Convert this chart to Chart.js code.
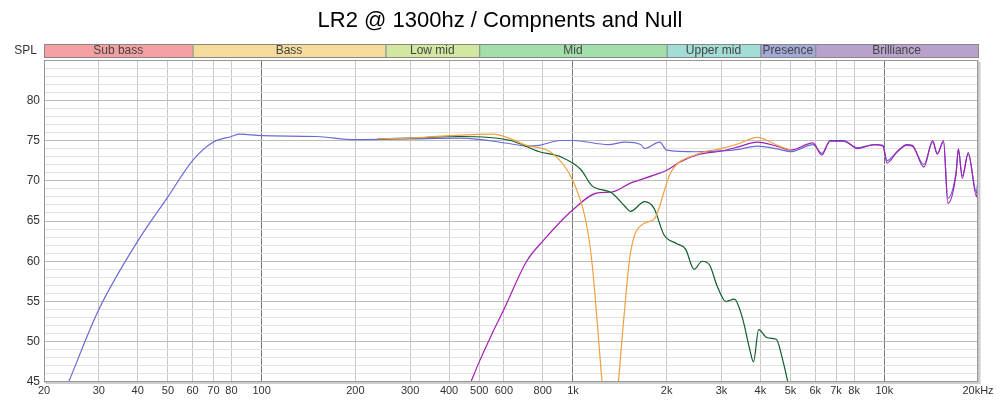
<!DOCTYPE html>
<html><head><meta charset="utf-8">
<script src="https://cdn.jsdelivr.net/npm/chart.js@4"></script>
<style>html,body{margin:0;padding:0;background:#fff}#w{width:1000px;height:406px}</style>
</head><body><div id="w"><canvas id="c"></canvas></div>
<script>
const chartTitle = "LR2 @ 1300hz / Compnents and Null";
const tickFreqs = [20,30,40,50,60,70,80,100,200,300,400,500,600,800,1000,2000,3000,4000,5000,6000,7000,8000,10000,20000];
const tickLabels = ["20","30","40","50","60","70","80","100","200","300","400","500","600","800","1k","2k","3k","4k","5k","6k","7k","8k","10k","20kHz"];
const bandNames = ["Sub bass","Bass","Low mid","Mid","Upper mid","Presence","Brilliance"];
const bandEdges = [20,60,250,500,2000,4000,6000,20000];
const bandColors = ["#f4a0a2","#f5dc9c","#d2e8a0","#a2dfaa","#a2ddd6","#a4aad8","#b8a2cc"];

const sumFreq = [24,30,40,50,60,70,80,85,100,150,200,300,436,630,710,780,910,1000,1300,1470,1650,1700,1900,2000,2500,3000,3400,3900,4600,5000,5900,6300,6700,7400,8200,9300,9900,10200,11000,11800,12300,13400,14300,14800,15500,16000,17000,17300,17800,18600,19800,20000];
const sumDb   = [45,54,62.5,68,72.5,74.8,75.5,75.8,75.6,75.5,75.1,75.2,75.3,74.6,74.3,74.4,75,75,74.5,74.8,74.5,74,74.8,73.8,73.6,73.7,73.9,74.3,73.9,73.6,74.5,73.4,74.9,74.9,74.1,74.5,74.3,72.5,73.6,74.4,74.3,72,74.8,73.4,74.8,67.8,71,73.8,70.6,73.3,68.5,70.4];

const wooferFreq = [236,300,436,630,780,910,1060,1150,1330,1470,1530,1700,1820,1960,2150,2300,2450,2600,2750,2900,3100,3300,3500,3700,3800,3950,4200,4500,4700,4900];
const wooferDb   = [75.2,75.3,75.5,75,73.6,73,71.4,69.4,68.5,66.8,66.2,67.4,66.6,63.3,62.2,61.5,59,60,59.5,57,55,55.3,53,49,47.5,51.5,50.5,50.3,48,45];

const nullFreq = [236,300,400,555,710,860,1000,1100,1150,1240,null,1400,1450,1530,1690,1820,2060,2500,3000,3400,3900,4600,5000];
const nullDb   = [75.2,75.3,75.6,75.8,74.4,73.4,70,65,60,45,null,45,52,61,64.7,65.2,71,73.3,74,74.6,75.4,74.3,73.8];

const tweeterFreq = [470,500,550,600,710,800,1000,1200,1330,1530,1820,2000,2200,2500,3000,3400,3900,4600,5000,5900,6300,6700,7400,8200,9300,9900,10200,11000,11800,12300,13400,14300,14800,15500,16000,17000,17300,17800,18600,19800,20000];
const tweeterDb   = [45,47.5,51,54,60,62.5,66.4,68.5,68.6,69.7,70.7,71.3,72.3,73.2,73.7,74.2,74.8,74.2,73.8,74.7,73.2,75,75,74,74.5,74.4,72.2,73.6,74.5,74.4,71.7,75,73.3,75,67.2,70.8,74,70.3,73.5,68,70.5];

function pts(f, d){ return f.map((x,i)=> x===null ? {x:NaN,y:null} : {x, y:d[i]}); }

const framePlugin = {
  id:'frame',
  beforeDraw(ch){
    const c=ch.ctx, a=ch.chartArea, xs=ch.scales.x;
    c.save();
    c.fillStyle='#000'; c.font='22px "Liberation Sans", Arial, sans-serif';
    c.textAlign='center'; c.textBaseline='middle';
    c.fillText(chartTitle, 500, 21);
    c.font='12px "Liberation Sans", Arial, sans-serif';
    c.fillStyle='#333'; c.textAlign='right';
    c.fillText('SPL', 37, 51);
    for(let i=0;i<bandNames.length;i++){
      const x0=xs.getPixelForValue(bandEdges[i]), x1=xs.getPixelForValue(bandEdges[i+1]);
      c.fillStyle=bandColors[i]; c.fillRect(x0,44,x1-x0,13);
      c.strokeStyle='#888'; c.lineWidth=1; c.strokeRect(x0+0.5,44.5,x1-x0,13);
      c.fillStyle='#444'; c.textAlign='center';
      c.fillText(bandNames[i],(x0+x1)/2,51);
    }
    c.restore();
  },
  afterDatasetsDraw(ch){
    const c=ch.ctx,a=ch.chartArea;
    c.save(); c.strokeStyle='#999'; c.lineWidth=1;
    c.strokeRect(a.left+0.5,a.top+0.5,a.right-a.left-1,a.bottom-a.top-1);
    c.strokeStyle='#ccc'; c.lineWidth=2;
    c.beginPath(); c.moveTo(a.right+1.5,a.top+2); c.lineTo(a.right+1.5,a.bottom+1); c.lineTo(a.left+2,a.bottom+1); c.stroke();
    c.restore();
  }
};

const ds = (label, f, d, color) => ({label, data:pts(f,d), borderColor:color, borderWidth:1.2, pointRadius:0, tension:0.35, cubicInterpolationMode:'monotone', spanGaps:false, fill:false});

new Chart(document.getElementById('c'), {
  type:'line',
  data:{datasets:[
    ds('Null', nullFreq, nullDb, '#f0a040'),
    ds('Woofer', wooferFreq, wooferDb, '#0e5e2a'),
    ds('Tweeter', tweeterFreq, tweeterDb, '#a020b0'),
    ds('Sum', sumFreq, sumDb, '#6a6ad8')
  ]},
  options:{
    responsive:true, maintainAspectRatio:false, animation:false, parsing:true,
    layout:{padding:{top:60,right:22,left:0,bottom:0}},
    plugins:{legend:{display:false},tooltip:{enabled:false},title:{display:false}},
    scales:{
      x:{type:'logarithmic', min:20, max:20000,
        afterBuildTicks(s){ s.ticks = tickFreqs.map(v=>({value:v})); },
        afterFit(s){ s.height=24; },
        ticks:{autoSkip:false, maxRotation:0, padding:2, color:'#333', font:{size:11,family:'"Liberation Sans Narrow","Liberation Sans",Arial'},
          callback:(v)=>{const i=tickFreqs.indexOf(v); return i>=0?tickLabels[i]:'';}},
        grid:{drawTicks:false, color:(ctx)=>{const v=ctx.tick&&ctx.tick.value; return (v===100||v===1000||v===10000)?'#777':'#c8c8c8';}},
        border:{display:false}
      },
      y:{min:45, max:85,
        afterBuildTicks(s){ const t=[]; for(let v=45;v<=85;v++) t.push({value:v}); s.ticks=t; },
        afterFit(s){ s.width=44; },
        ticks:{autoSkip:false, padding:4, color:'#333', font:{size:12,family:'"Liberation Sans",Arial'},
          callback:(v)=> (v%5===0 && v<85)? String(v):''},
        grid:{drawTicks:false, color:(ctx)=>{const v=ctx.tick&&ctx.tick.value; return v%5===0?'#bdbdbd':'#e2e2e2';}},
        border:{display:false}
      }
    }
  },
  plugins:[framePlugin]
});
</script></body></html>
